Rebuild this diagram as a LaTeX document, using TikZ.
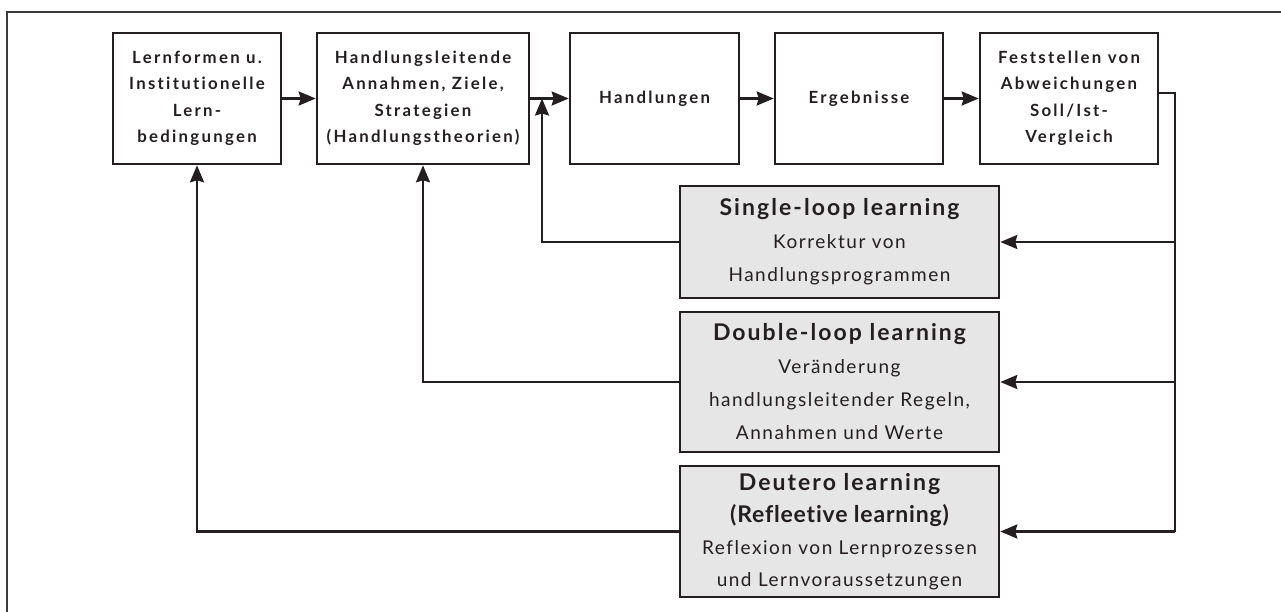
\documentclass[tikz,border=0pt]{standalone}
\usepackage{fontspec}
\setmainfont{Lato}[Ligatures=CommonOff]
\newfontfamily\stagefont{Lato}[LetterSpace=13.5, Ligatures=CommonOff]
\newfontfamily\titlefont{Lato}[LetterSpace=8.9, Ligatures=CommonOff]
\newfontfamily\subtitlefont{Lato}[LetterSpace=3.5, Ligatures=CommonOff]
\newfontfamily\bodyfont{Lato}[LetterSpace=8, Ligatures=CommonOff]
\usetikzlibrary{arrows.meta}
\definecolor{ink}{HTML}{231F20}
\definecolor{boxgray}{HTML}{E6E6E6}
\definecolor{framegray}{HTML}{3A3A3A}
\newcommand\looptitle[1]{{\titlefont\fontsize{23}{33}\selectfont\bfseries #1}}
\tikzset{
  stagebox/.style={draw=ink, line width=2.6pt, minimum height=131pt, align=center,
    text=ink, font=\stagefont\fontsize{16.8}{26.5}\selectfont\bfseries, inner sep=0pt},
  loopbox/.style={draw=ink, fill=boxgray, line width=2.6pt, minimum width=319pt,
    align=center, text=ink, font=\bodyfont\fontsize{19}{33}\selectfont, inner sep=0pt},
  link/.style={draw=ink, line width=2.4pt},
  arr/.style={link, -{Stealth[length=17pt,width=14pt,inset=2pt]}},
}
\begin{document}
\begin{tikzpicture}[x=1pt, y=-1pt]
\useasboundingbox (0,0) rectangle (1281,611);
% open frame
\draw[framegray, line width=1.2pt] (7,620) -- (7,12) -- (1290,12);

% process chain
\node[stagebox, minimum width=168pt] (b1) at (197,98.5)
  {Lernformen u.\\Institutionelle\\Lern-\\bedingungen};
\node[stagebox, minimum width=212pt] (b2) at (423,98.5)
  {Handlungsleitende\\Annahmen, Ziele,\\Strategien\\(Handlungstheorien)};
\node[stagebox, minimum width=169pt] (b3) at (654.5,98.5) {Handlungen};
\node[stagebox, minimum width=168pt] (b4) at (859,98.5) {Ergebnisse};
\node[stagebox, minimum width=178pt] (b5) at (1069,98.5)
  {Feststellen von\\Abweichungen\\Soll/Ist-\\Vergleich};

% learning loops
\node[loopbox, minimum height=112pt] (sl) at (839.5,242)
  {\looptitle{Single-loop learning}\\Korrektur von\\Handlungsprogrammen};
\node[loopbox, minimum height=140pt] (dl) at (839.5,382)
  {\looptitle{Double-loop learning}\\Veränderung\\handlungsleitender Regeln,\\Annahmen und Werte};
\node[loopbox, minimum height=131pt,
      font=\bodyfont\fontsize{19}{32}\selectfont] (tl) at (839.5,531.5)
  {\looptitle{Deutero learning}\\{\subtitlefont\fontsize{23}{32}\selectfont\bfseries (Refleetive learning)}\\Reflexion von Lernprozessen\\und Lernvoraussetzungen};

% junction points
\coordinate (j) at (542,98.5);
\coordinate (rt) at (1175,93);

% forward arrows
\draw[arr] (b1) -- (b2);
\draw[arr] (b2) -- (b3);
\draw[arr] (b3) -- (b4);
\draw[arr] (b4) -- (b5);

% feedback line on the right
\draw[link] ([yshift=5.5pt]b5.east) -- (rt) -- (rt |- tl.east);
\draw[arr] (rt |- sl.east) -- (sl.east);
\draw[arr] (rt |- dl.east) -- (dl.east);
\draw[arr] (rt |- tl.east) -- (tl.east);

% loops back to the chain
\draw[arr] (sl.west) -| (j);
\draw[arr] (dl.west) -| (b2.south);
\draw[arr] (tl.west) -| (b1.south);
\end{tikzpicture}
\end{document}
